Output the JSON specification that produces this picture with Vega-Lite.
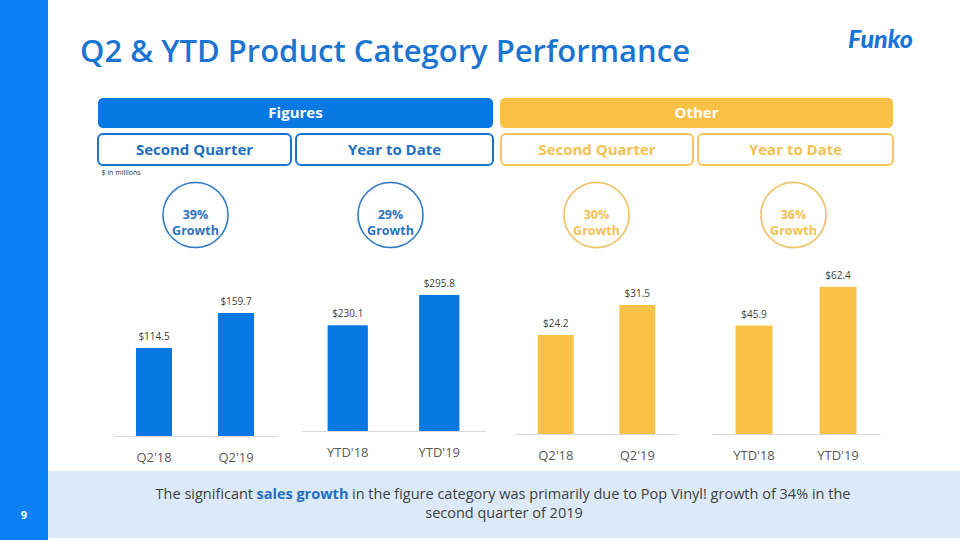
{
  "$schema": "https://vega.github.io/schema/vega-lite/v6.json",
  "padding": 0,
  "background": "white",
  "bounds": "full",
  "spacing": 0,
  "config": {"view": {"stroke": null}, "font": "Open Sans"},
  "hconcat": [
    {
      "bounds": "flush", "spacing": 0,
      "vconcat": [
        {"width": 48, "height": 473, "data": {"values": []}, "mark": "point", "view": {"fill": "#0a80f5"}},
        {"width": 48, "height": 67, "data": {"values": [{"t": "9"}]}, "view": {"fill": "#0a80f5"},
         "mark": {"type": "text", "fontSize": 11, "fontWeight": "bold", "color": "white", "dy": 9},
         "encoding": {"text": {"field": "t"}}}
      ]
    },
    {
      "bounds": "full", "spacing": 0,
      "vconcat": [
        {
          "bounds": "flush", "spacing": 0,
          "hconcat": [
            {"width": 30, "height": 1, "data": {"values": []}, "mark": "point"},
            {"width": 614, "height": 90, "data": {"values": [{"t": "Q2 & YTD Product Category Performance"}]},
             "mark": {"type": "text", "fontSize": 31, "fontWeight": 600, "color": "#1b75d0", "dy": 8},
             "encoding": {"text": {"field": "t"}}},
            {"width": 151, "height": 1, "data": {"values": []}, "mark": "point"},
            {"width": 75, "height": 90, "data": {"values": [{"t": "Funko"}]},
             "mark": {"type": "text", "font": "Lato", "fontSize": 25, "fontStyle": "italic", "fontWeight": 900, "color": "#1a73d9", "dy": -5},
             "encoding": {"text": {"field": "t"}}},
            {"width": 42, "height": 1, "data": {"values": []}, "mark": "point"}
          ]
        },
        {"width": 1, "height": 8, "data": {"values": []}, "mark": "point"},
        {
          "bounds": "flush", "spacing": 0,
          "hconcat": [
            {"width": 50, "height": 1, "data": {"values": []}, "mark": "point"},
            {"width": 395, "height": 30, "data": {"values": [{"t": "Figures"}]},
             "view": {"fill": "#0a78e2", "cornerRadius": 5},
             "mark": {"type": "text", "fontSize": 15, "fontWeight": "bold", "color": "white"},
             "encoding": {"text": {"field": "t"}}},
            {"width": 7, "height": 1, "data": {"values": []}, "mark": "point"},
            {"width": 393, "height": 30, "data": {"values": [{"t": "Other"}]},
             "view": {"fill": "#fac147", "cornerRadius": 5},
             "mark": {"type": "text", "fontSize": 15, "fontWeight": "bold", "color": "white"},
             "encoding": {"text": {"field": "t"}}}
          ]
        },
        {"width": 1, "height": 5, "data": {"values": []}, "mark": "point"},
        {
          "bounds": "flush", "spacing": 0,
          "hconcat": [
            {"width": 50, "height": 1, "data": {"values": []}, "mark": "point"},
            {"width": 193, "height": 31, "data": {"values": [{"t": "Second Quarter"}]},
             "view": {"fill": "white", "stroke": "#1a73d1", "strokeWidth": 2, "cornerRadius": 5},
             "mark": {"type": "text", "fontSize": 15, "fontWeight": "bold", "color": "#1e6fc4"},
             "encoding": {"text": {"field": "t"}}},
            {"width": 5, "height": 1, "data": {"values": []}, "mark": "point"},
            {"width": 197, "height": 31, "data": {"values": [{"t": "Year to Date"}]},
             "view": {"fill": "white", "stroke": "#1a73d1", "strokeWidth": 2, "cornerRadius": 5},
             "mark": {"type": "text", "fontSize": 15, "fontWeight": "bold", "color": "#1e6fc4"},
             "encoding": {"text": {"field": "t"}}},
            {"width": 8, "height": 1, "data": {"values": []}, "mark": "point"},
            {"width": 192, "height": 31, "data": {"values": [{"t": "Second Quarter"}]},
             "view": {"fill": "white", "stroke": "#f8c55a", "strokeWidth": 2, "cornerRadius": 5},
             "mark": {"type": "text", "fontSize": 15, "fontWeight": "bold", "color": "#f5c150"},
             "encoding": {"text": {"field": "t"}}},
            {"width": 5, "height": 1, "data": {"values": []}, "mark": "point"},
            {"width": 195, "height": 31, "data": {"values": [{"t": "Year to Date"}]},
             "view": {"fill": "white", "stroke": "#f8c55a", "strokeWidth": 2, "cornerRadius": 5},
             "mark": {"type": "text", "fontSize": 15, "fontWeight": "bold", "color": "#f5c150"},
             "encoding": {"text": {"field": "t"}}}
          ]
        },
        {
          "bounds": "flush", "spacing": 0,
          "hconcat": [
            {"width": 53, "height": 1, "data": {"values": []}, "mark": "point"},
            {"width": 40, "height": 13, "data": {"values": [{"t": "$ in millions"}]},
             "mark": {"type": "text", "fontSize": 7, "color": "#333333"},
             "encoding": {"text": {"field": "t"}}}
          ]
        },
        {
          "bounds": "flush", "spacing": 0,
          "hconcat": [
            {"width": 115, "height": 1, "data": {"values": []}, "mark": "point"},
            {"width": 65, "height": 72, "data": {"values": [{"t": "39%\nGrowth"}]},
             "layer": [
               {"mark": {"type": "point", "filled": true, "size": 4600, "color": "#000000", "opacity": 0.07}},
               {"mark": {"type": "point", "filled": true, "fill": "white", "stroke": "#2f78c4", "strokeWidth": 1.5, "size": 4225, "opacity": 1}},
               {"mark": {"type": "text", "fontSize": 12.5, "fontWeight": "bold", "color": "#2a72c0", "lineBreak": "\n", "lineHeight": 15.5}, "encoding": {"text": {"field": "t"}}}
             ]},
            {"width": 130, "height": 1, "data": {"values": []}, "mark": "point"},
            {"width": 65, "height": 72, "data": {"values": [{"t": "29%\nGrowth"}]},
             "layer": [
               {"mark": {"type": "point", "filled": true, "size": 4600, "color": "#000000", "opacity": 0.07}},
               {"mark": {"type": "point", "filled": true, "fill": "white", "stroke": "#2f78c4", "strokeWidth": 1.5, "size": 4225, "opacity": 1}},
               {"mark": {"type": "text", "fontSize": 12.5, "fontWeight": "bold", "color": "#2a72c0", "lineBreak": "\n", "lineHeight": 15.5}, "encoding": {"text": {"field": "t"}}}
             ]},
            {"width": 141, "height": 1, "data": {"values": []}, "mark": "point"},
            {"width": 65, "height": 72, "data": {"values": [{"t": "30%\nGrowth"}]},
             "layer": [
               {"mark": {"type": "point", "filled": true, "size": 4600, "color": "#000000", "opacity": 0.07}},
               {"mark": {"type": "point", "filled": true, "fill": "white", "stroke": "#f3c25e", "strokeWidth": 1.5, "size": 4225, "opacity": 1}},
               {"mark": {"type": "text", "fontSize": 12.5, "fontWeight": "bold", "color": "#f4c150", "lineBreak": "\n", "lineHeight": 15.5}, "encoding": {"text": {"field": "t"}}}
             ]},
            {"width": 132, "height": 1, "data": {"values": []}, "mark": "point"},
            {"width": 65, "height": 72, "data": {"values": [{"t": "36%\nGrowth"}]},
             "layer": [
               {"mark": {"type": "point", "filled": true, "size": 4600, "color": "#000000", "opacity": 0.07}},
               {"mark": {"type": "point", "filled": true, "fill": "white", "stroke": "#f3c25e", "strokeWidth": 1.5, "size": 4225, "opacity": 1}},
               {"mark": {"type": "text", "fontSize": 12.5, "fontWeight": "bold", "color": "#f4c150", "lineBreak": "\n", "lineHeight": 15.5}, "encoding": {"text": {"field": "t"}}}
             ]}
          ]
        },
        {
          "bounds": "flush", "spacing": 0,
          "hconcat": [
            {"width": 65, "height": 1, "data": {"values": []}, "mark": "point"},
            {
              "width": 164, "height": 185,
              "data": {"values": [{"period": "Q2'18", "sales": 114.5}, {"period": "Q2'19", "sales": 159.7}]},
              "encoding": {
                "x": {"field": "period", "type": "nominal", "sort": null, "scale": {"paddingInner": 0.56, "paddingOuter": 0.28},
                      "axis": {"title": null, "labelAngle": 0, "ticks": false, "domainColor": "#d9d9d9", "labelFontSize": 13, "labelColor": "#595959", "labelPadding": 15, "grid": false}},
                "y": {"field": "sales", "type": "quantitative", "scale": {"domain": [0, 240.4], "nice": false}, "axis": null}
              },
              "layer": [
                {"mark": {"type": "bar", "color": "#0a78e2"}},
                {"mark": {"type": "text", "dy": -11, "fontSize": 10, "color": "#404040"}, "encoding": {"text": {"field": "sales", "type": "quantitative", "format": "$.1f"}}}
              ]
            },
            {"width": 25, "height": 1, "data": {"values": []}, "mark": "point"},
            {
              "width": 183, "height": 180,
              "data": {"values": [{"period": "YTD'18", "sales": 230.1}, {"period": "YTD'19", "sales": 295.8}]},
              "encoding": {
                "x": {"field": "period", "type": "nominal", "sort": null, "scale": {"paddingInner": 0.56, "paddingOuter": 0.28},
                      "axis": {"title": null, "labelAngle": 0, "ticks": false, "domainColor": "#d9d9d9", "labelFontSize": 13, "labelColor": "#595959", "labelPadding": 15, "grid": false}},
                "y": {"field": "sales", "type": "quantitative", "scale": {"domain": [0, 391.3], "nice": false}, "axis": null}
              },
              "layer": [
                {"mark": {"type": "bar", "color": "#0a78e2"}},
                {"mark": {"type": "text", "dy": -11, "fontSize": 10, "color": "#404040"}, "encoding": {"text": {"field": "sales", "type": "quantitative", "format": "$.1f"}}}
              ]
            },
            {"width": 30, "height": 1, "data": {"values": []}, "mark": "point"},
            {
              "width": 163, "height": 183,
              "data": {"values": [{"period": "Q2'18", "sales": 24.2}, {"period": "Q2'19", "sales": 31.5}]},
              "encoding": {
                "x": {"field": "period", "type": "nominal", "sort": null, "scale": {"paddingInner": 0.56, "paddingOuter": 0.28},
                      "axis": {"title": null, "labelAngle": 0, "ticks": false, "domainColor": "#d9d9d9", "labelFontSize": 13, "labelColor": "#595959", "labelPadding": 15, "grid": false}},
                "y": {"field": "sales", "type": "quantitative", "scale": {"domain": [0, 44.7], "nice": false}, "axis": null}
              },
              "layer": [
                {"mark": {"type": "bar", "color": "#fac147"}},
                {"mark": {"type": "text", "dy": -11, "fontSize": 10, "color": "#404040"}, "encoding": {"text": {"field": "sales", "type": "quantitative", "format": "$.1f"}}}
              ]
            },
            {"width": 34, "height": 1, "data": {"values": []}, "mark": "point"},
            {
              "width": 168, "height": 183,
              "data": {"values": [{"period": "YTD'18", "sales": 45.9}, {"period": "YTD'19", "sales": 62.4}]},
              "encoding": {
                "x": {"field": "period", "type": "nominal", "sort": null, "scale": {"paddingInner": 0.56, "paddingOuter": 0.28},
                      "axis": {"title": null, "labelAngle": 0, "ticks": false, "domainColor": "#d9d9d9", "labelFontSize": 13, "labelColor": "#595959", "labelPadding": 15, "grid": false}},
                "y": {"field": "sales", "type": "quantitative", "scale": {"domain": [0, 77.5], "nice": false}, "axis": null}
              },
              "layer": [
                {"mark": {"type": "bar", "color": "#fac147"}},
                {"mark": {"type": "text", "dy": -11, "fontSize": 10, "color": "#404040"}, "encoding": {"text": {"field": "sales", "type": "quantitative", "format": "$.1f"}}}
              ]
            }
          ]
        },
        {"width": 1, "height": 7, "data": {"values": []}, "mark": "point"},
        {
          "width": 912, "height": 67,
          "view": {"fill": "#dbe9f8"},
          "layer": [
            {"data": {"values": [{"t": "The significant"}]},
             "mark": {"type": "text", "fontSize": 14.5, "color": "#404040", "align": "right", "dx": -251, "dy": -9.5},
             "encoding": {"text": {"field": "t"}}},
            {"data": {"values": [{"t": "sales growth"}]},
             "mark": {"type": "text", "fontSize": 14.5, "fontWeight": "bold", "color": "#1f6fc0", "align": "left", "dx": -247.5, "dy": -9.5},
             "encoding": {"text": {"field": "t"}}},
            {"data": {"values": [{"t": "in the figure category was primarily due to Pop Vinyl! growth of 34% in the"}]},
             "mark": {"type": "text", "fontSize": 14.5, "color": "#404040", "align": "left", "dx": -152, "dy": -9.5},
             "encoding": {"text": {"field": "t"}}},
            {"data": {"values": [{"t": "second quarter of 2019"}]},
             "mark": {"type": "text", "fontSize": 14.5, "color": "#404040", "dy": 9.5},
             "encoding": {"text": {"field": "t"}}}
          ]
        }
      ]
    }
  ]
}
